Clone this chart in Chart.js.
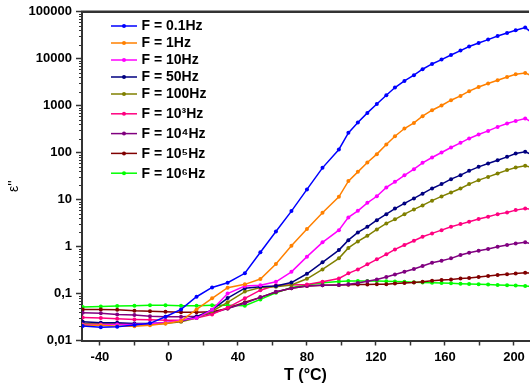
<!DOCTYPE html>
<html>
<head>
<meta charset="utf-8">
<title>Dielectric loss vs temperature</title>
<script src="https://cdn.jsdelivr.net/npm/chart.js@4.4.0/dist/chart.umd.min.js"></script>
<style>
    html, body { margin: 0; padding: 0; background: #fff; }
    #wrap { width: 531px; height: 385px; }
</style>
</head>
<body>
<div id="wrap"><canvas id="epsChart" width="531" height="385"></canvas></div>
<script>
// Temperature points (°C)
const temps = [-50, -39.5, -30, -20, -11, -2, 7, 16, 25, 34, 44, 53, 62, 71, 80, 89, 98.5,
    104, 109.5, 115, 120.5, 126, 131, 136.5, 142, 147, 152.5,
    158, 163.5, 169, 174, 179.5, 185, 190.5, 196, 201, 206.5, 212];

// eps'' for each frequency
const eps01Hz = [0.0204, 0.0191, 0.0196, 0.0214, 0.0232, 0.032, 0.046, 0.0855, 0.135, 0.17, 0.27, 0.76, 2.1, 5.7, 16.5, 47.5, 117,
    264, 440, 703, 1090, 1670, 2440, 3370, 4460, 5980, 7750,
    9610, 12000, 14900, 18200, 21700, 25600, 30600, 35400, 40400, 46100, 32000];
const eps1Hz = [0.021, 0.021, 0.020, 0.020, 0.021, 0.023, 0.026, 0.046, 0.079, 0.133, 0.157, 0.204, 0.425, 1.04, 2.36, 5.24, 11.5,
    24.8, 39, 61.8, 93, 149, 224, 327, 431, 598, 802,
    1010, 1310, 1620, 2040, 2510, 2970, 3490, 4100, 4680, 4990, 4040];
const eps10Hz = [0.022, 0.022, 0.022, 0.022, 0.023, 0.024, 0.027, 0.03, 0.045, 0.1, 0.145, 0.15, 0.178, 0.29, 0.61, 1.23, 2.24,
    4.18, 5.78, 8.55, 11.8, 18.2, 24, 33, 44.6, 60.7, 79,
    101, 129, 162, 201, 244, 291, 354, 418, 475, 535, 412];
const eps50Hz = [0.025, 0.024, 0.024, 0.023, 0.023, 0.024, 0.026, 0.032, 0.045, 0.08, 0.13, 0.14, 0.145, 0.171, 0.264, 0.463, 0.843,
    1.37, 2.0, 2.64, 3.66, 4.91, 6.44, 8.3, 10.6, 13.4, 17.3,
    21.4, 27.3, 33.2, 41, 49.9, 58.9, 69.2, 81.4, 96.2, 104, 87];
const eps100Hz = [0.023, 0.023, 0.023, 0.022, 0.022, 0.023, 0.025, 0.03, 0.042, 0.065, 0.11, 0.135, 0.14, 0.152, 0.206, 0.327, 0.561,
    0.938, 1.29, 1.7, 2.32, 3.12, 3.8, 4.91, 6.18, 7.53, 9.5,
    11.7, 14.2, 17.3, 21.4, 26, 30.5, 36.1, 42.5, 48.4, 52.4, 46.8];
const eps1kHz = [0.031, 0.030, 0.029, 0.028, 0.0275, 0.027, 0.027, 0.03, 0.036, 0.05, 0.079, 0.118, 0.15, 0.152, 0.155, 0.178, 0.21,
    0.269, 0.327, 0.418, 0.535, 0.683, 0.871, 1.08, 1.33, 1.62, 1.91,
    2.24, 2.64, 3.01, 3.37, 3.85, 4.3, 4.91, 5.34, 5.98, 6.5, 6.0];
const eps10kHz = [0.039, 0.038, 0.036, 0.035, 0.033, 0.032, 0.032, 0.033, 0.038, 0.048, 0.062, 0.083, 0.109, 0.13, 0.145, 0.15, 0.152,
    0.158, 0.168, 0.182, 0.2, 0.225, 0.255, 0.291, 0.332, 0.385, 0.452,
    0.499, 0.561, 0.659, 0.738, 0.814, 0.885, 0.99, 1.08, 1.17, 1.23, 1.1];
const eps100kHz = [0.046, 0.046, 0.045, 0.043, 0.042, 0.041, 0.04, 0.04, 0.041, 0.048, 0.065, 0.083, 0.108, 0.13, 0.145, 0.15, 0.152,
    0.154, 0.155, 0.156, 0.157, 0.158, 0.163, 0.168, 0.172, 0.178, 0.187,
    0.194, 0.2, 0.21, 0.215, 0.226, 0.235, 0.248, 0.256, 0.268, 0.276, 0.27];
const eps1MHz = [0.052, 0.053, 0.054, 0.055, 0.056, 0.056, 0.055, 0.055, 0.056, 0.056, 0.055, 0.075, 0.104, 0.135, 0.152, 0.17, 0.18,
    0.185, 0.186, 0.186, 0.185, 0.183, 0.18, 0.178, 0.175, 0.172, 0.17,
    0.167, 0.165, 0.162, 0.16, 0.157, 0.155, 0.152, 0.15, 0.148, 0.145, 0.14];

const seriesLabels = ['F = 0.1Hz', 'F = 1Hz', 'F = 10Hz', 'F = 50Hz', 'F = 100Hz',
    'F = 10\u00B3Hz', 'F = 10\u2074Hz', 'F = 10\u2075Hz', 'F = 10\u2076Hz'];
const seriesValues = [eps01Hz, eps1Hz, eps10Hz, eps50Hz, eps100Hz, eps1kHz, eps10kHz, eps100kHz, eps1MHz];
const seriesColors = ['#0000FF', '#FF8000', '#FF00FF', '#000080', '#808000', '#FF0080', '#800080', '#800000', '#00FF00'];

// axis ticks
const xTickValues = [-40, -20, 0, 20, 40, 60, 80, 100, 120, 140, 160, 180, 200];
const yTickValues = [0.01, 0.1, 1, 10, 100, 1000, 10000, 100000];
const yTickLabels = ['0,01', '0,1', '1', '10', '100', '1000', '10000', '100000'];

const FONT = '"Liberation Sans", Arial, sans-serif';
const AXIS_COLOR = '#333';

Chart.defaults.font.family = FONT;
Chart.defaults.color = '#000';

// top frame line + minor log ticks on the y axis
const framePlugin = {
    id: 'frame',
    afterDraw(chart) {
        const { ctx, chartArea, scales } = chart;
        ctx.save();
        ctx.strokeStyle = AXIS_COLOR;
        ctx.lineWidth = 2.5;
        ctx.beginPath();
        ctx.moveTo(chartArea.left - 1, chartArea.top);
        ctx.lineTo(chartArea.right, chartArea.top);
        ctx.stroke();

        ctx.lineWidth = 1;
        const y = scales.y;
        for (let d = 0; d < yTickValues.length - 1; d++) {
            for (let k = 2; k <= 9; k++) {
                const py = Math.round(y.getPixelForValue(yTickValues[d] * k)) + 0.5;
                ctx.beginPath();
                ctx.moveTo(chartArea.left - 3, py);
                ctx.lineTo(chartArea.left, py);
                ctx.stroke();
            }
        }
        ctx.restore();
    }
};

// axis titles
const titlesPlugin = {
    id: 'titles',
    afterDraw(chart) {
        const { ctx, chartArea } = chart;
        ctx.save();
        ctx.fillStyle = '#000';
        ctx.font = 'bold 16px ' + FONT;
        ctx.textAlign = 'center';
        ctx.textBaseline = 'alphabetic';
        ctx.fillText('T (\u00B0C)', (chartArea.left + chartArea.right) / 2, 380);

        ctx.translate(18, 192);
        ctx.rotate(-Math.PI / 2);
        ctx.font = '14px ' + FONT;
        ctx.textAlign = 'left';
        ctx.fillText('\u03B5\'\'', 0, 0);
        ctx.restore();
    }
};

// legend inside the plot: line sample with a dot, then the label
const legendPlugin = {
    id: 'insideLegend',
    afterDraw(chart) {
        const { ctx } = chart;
        ctx.save();
        ctx.font = 'bold 14px ' + FONT;
        ctx.textBaseline = 'middle';
        ctx.textAlign = 'left';
        let rowY = 26;
        chart.data.datasets.forEach((ds, i) => {
            if (i > 0) {
                rowY += /[\u00B3\u2074-\u2079]/.test(ds.label) ? 19.8 : 17;
            }
            ctx.strokeStyle = ds.borderColor;
            ctx.fillStyle = ds.borderColor;
            ctx.lineWidth = 1.5;
            ctx.beginPath();
            ctx.moveTo(111, rowY);
            ctx.lineTo(137, rowY);
            ctx.stroke();
            ctx.beginPath();
            ctx.arc(124, rowY, 2, 0, Math.PI * 2);
            ctx.fill();
            ctx.fillStyle = '#000';
            ctx.fillText(ds.label, 141.5, rowY + 0.5);
        });
        ctx.restore();
    }
};

const datasets = seriesLabels.map((label, i) => ({
    label: label,
    data: temps.map((t, j) => ({ x: t, y: seriesValues[i][j] })),
    borderColor: seriesColors[i],
    backgroundColor: seriesColors[i],
    borderWidth: 1.5,
    pointRadius: 2,
    pointHoverRadius: 2,
    pointBorderWidth: 0,
    tension: 0
}));

const ctx = document.getElementById('epsChart').getContext('2d');
const epsChart = new Chart(ctx, {
    type: 'line',
    data: { datasets: datasets },
    options: {
        responsive: false,
        animation: false,
        layout: { padding: { top: 11.5, right: 0, bottom: 0, left: 0 } },
        plugins: {
            legend: { display: false },
            tooltip: { enabled: false }
        },
        scales: {
            x: {
                type: 'linear',
                min: -50.4,
                max: 208.7,
                afterBuildTicks: (scale) => {
                    scale.ticks = xTickValues.map(v => ({ value: v }));
                },
                afterFit: (scale) => { scale.height = 44.5; },
                ticks: {
                    autoSkip: false,
                    maxRotation: 0,
                    padding: 4,
                    color: '#000',
                    font: { size: 13, weight: 'bold' },
                    callback: (v) => (v % 40 === 0 ? String(v) : '')
                },
                grid: {
                    drawOnChartArea: false,
                    drawTicks: true,
                    tickLength: 5,
                    tickColor: AXIS_COLOR,
                    tickWidth: 1.5
                },
                border: { color: AXIS_COLOR, width: 2 }
            },
            y: {
                type: 'logarithmic',
                min: 0.01,
                max: 100000,
                afterBuildTicks: (scale) => {
                    scale.ticks = yTickValues.map(v => ({ value: v }));
                },
                afterFit: (scale) => { scale.width = 82; },
                ticks: {
                    autoSkip: false,
                    padding: 4,
                    color: '#000',
                    font: { size: 13, weight: 'bold' },
                    callback: (v, i) => yTickLabels[i]
                },
                grid: {
                    drawOnChartArea: false,
                    drawTicks: true,
                    tickLength: 6,
                    tickColor: AXIS_COLOR,
                    tickWidth: 1.5
                },
                border: { color: AXIS_COLOR, width: 2 }
            }
        }
    },
    plugins: [framePlugin, titlesPlugin, legendPlugin]
});
</script>
</body>
</html>
